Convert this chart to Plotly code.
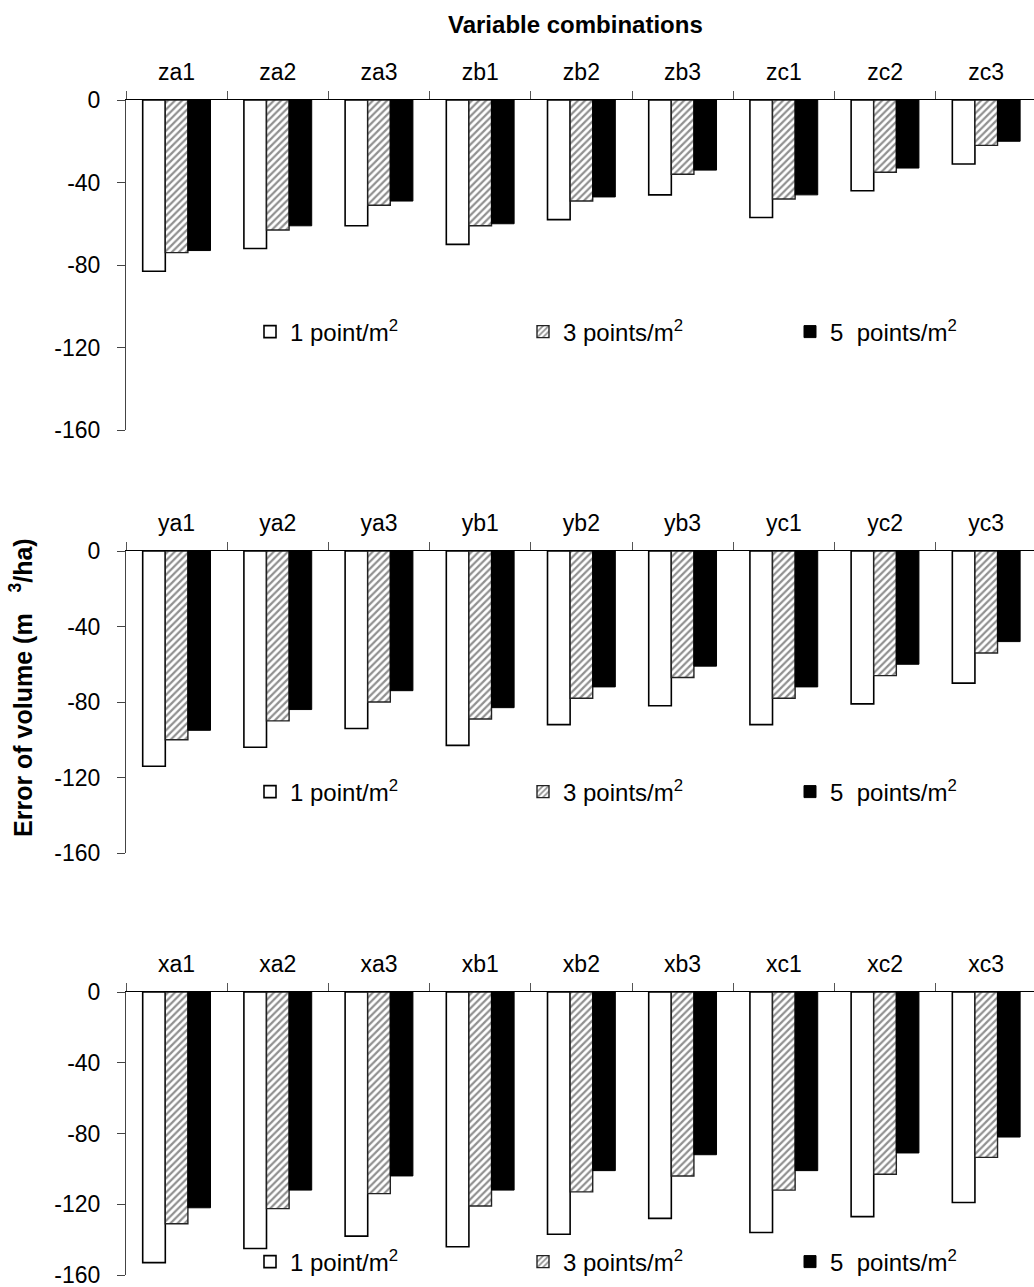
import plotly.graph_objects as go
from plotly.subplots import make_subplots

z_categories = ["za1", "za2", "za3", "zb1", "zb2", "zb3", "zc1", "zc2", "zc3"]
y_categories = ["ya1", "ya2", "ya3", "yb1", "yb2", "yb3", "yc1", "yc2", "yc3"]
x_categories = ["xa1", "xa2", "xa3", "xb1", "xb2", "xb3", "xc1", "xc2", "xc3"]

z_1pt = [-83, -72, -61, -70, -58, -46, -57, -44, -31]
z_3pt = [-74, -63, -51, -61, -49, -36, -48, -35, -22]
z_5pt = [-73, -61, -49, -60, -47, -34, -46, -33, -20]

y_1pt = [-114, -104, -94, -103, -92, -82, -92, -81, -70]
y_3pt = [-100, -90, -80, -89, -78, -67, -78, -66, -54]
y_5pt = [-95, -84, -74, -83, -72, -61, -72, -60, -48]

x_1pt = [-153, -145, -138, -144, -137, -128, -136, -127, -119]
x_3pt = [-131, -122.5, -114, -121, -113, -104, -112, -103, -93.5]
x_5pt = [-122, -112, -104, -112, -101, -92, -101, -91, -82]

series_names = ["1 point/m<sup>2</sup>", "3 points/m<sup>2</sup>", "5  points/m<sup>2</sup>"]
y_ticks = [0, -40, -80, -120, -160]

FONT = "Liberation Sans, Arial, sans-serif"
W, H = 1034, 1287
L = 126
PW = W - L


def px_x(px):
    return (px - L) / PW


def px_y(py):
    return (H - py) / H


panels = [
    (z_categories, [z_1pt, z_3pt, z_5pt]),
    (y_categories, [y_1pt, y_3pt, y_5pt]),
    (x_categories, [x_1pt, x_3pt, x_5pt]),
]

fig = make_subplots(rows=3, cols=1)

styles = [
    dict(color="white", line=dict(color="black", width=1.6)),
    dict(color="white", line=dict(color="#222", width=1.4),
         pattern=dict(shape="/", fgcolor="#222", bgcolor="white", size=5, solidity=0.45)),
    dict(color="black", line=dict(color="black", width=1)),
]

legend_names = []
for r, (cats, vals) in enumerate(panels, start=1):
    for s in range(3):
        idx = (r - 1) * 3 + s + 1
        leg = "legend" if idx == 1 else "legend" + str(idx)
        legend_names.append((leg, r - 1, s))
        fig.add_trace(go.Bar(x=cats, y=vals[s], name=series_names[s], marker=styles[s],
                             legend=leg, showlegend=True), row=r, col=1)

panel_px = [(100, 430), (551, 853), (992, 1275)]
legend_row_y = [332, 792, 1262]
legend_swatch_x = [250, 523, 790]

layout_updates = {}
for i, (top, bot) in enumerate(panel_px, start=1):
    sfx = "" if i == 1 else str(i)
    layout_updates["xaxis" + sfx] = dict(
        domain=[0, 1], side="top", range=[-0.5, 8.472], type="category",
        showline=True, linecolor="black", linewidth=1,
        ticks="outside", tickson="boundaries", ticklen=8, tickcolor="#555", tickwidth=1,
        ticklabelstandoff=10,
        tickfont=dict(family=FONT, size=23, color="black"), showgrid=False,
        automargin=False, fixedrange=True,
    )
    layout_updates["yaxis" + sfx] = dict(
        domain=[px_y(bot), px_y(top)], range=[-160, 0],
        tickvals=y_ticks, ticktext=[str(v) for v in y_ticks],
        showline=True, linecolor="#444", linewidth=1,
        ticks="outside", ticklen=8, tickcolor="#444",
        ticklabelstandoff=12, ticklabeloverflow="allow",
        tickfont=dict(family=FONT, size=23, color="black"),
        showgrid=False, zeroline=False, automargin=False,
    )

for leg, p, s in legend_names:
    layout_updates[leg] = dict(
        orientation="h", x=px_x(legend_swatch_x[s]), xanchor="left",
        y=px_y(legend_row_y[p]), yanchor="middle",
        itemwidth=30,
        font=dict(family=FONT, size=24, color="black"),
        bgcolor="rgba(0,0,0,0)",
    )

fig.update_layout(**layout_updates)

fig.update_layout(
    width=W, height=H,
    margin=dict(l=L, r=0, t=0, b=0),
    paper_bgcolor="white", plot_bgcolor="white",
    barmode="group", bargap=0.33, bargroupgap=0,
    font=dict(family=FONT, color="black"),
    annotations=[
        dict(text="<b>Variable combinations</b>", x=px_x(575), y=px_y(24),
             xref="paper", yref="paper", showarrow=False,
             xanchor="center", yanchor="middle",
             font=dict(family=FONT, size=24, color="black")),
        dict(text="<b>Error of volume (m\u00a0\u00a0\u00a0<sup>3</sup>/ha)</b>", x=px_x(21), y=px_y(688),
             xref="paper", yref="paper", showarrow=False, textangle=-90,
             xanchor="center", yanchor="middle",
             font=dict(family=FONT, size=25, color="black")),
    ],
)

fig.write_html("out.html")
